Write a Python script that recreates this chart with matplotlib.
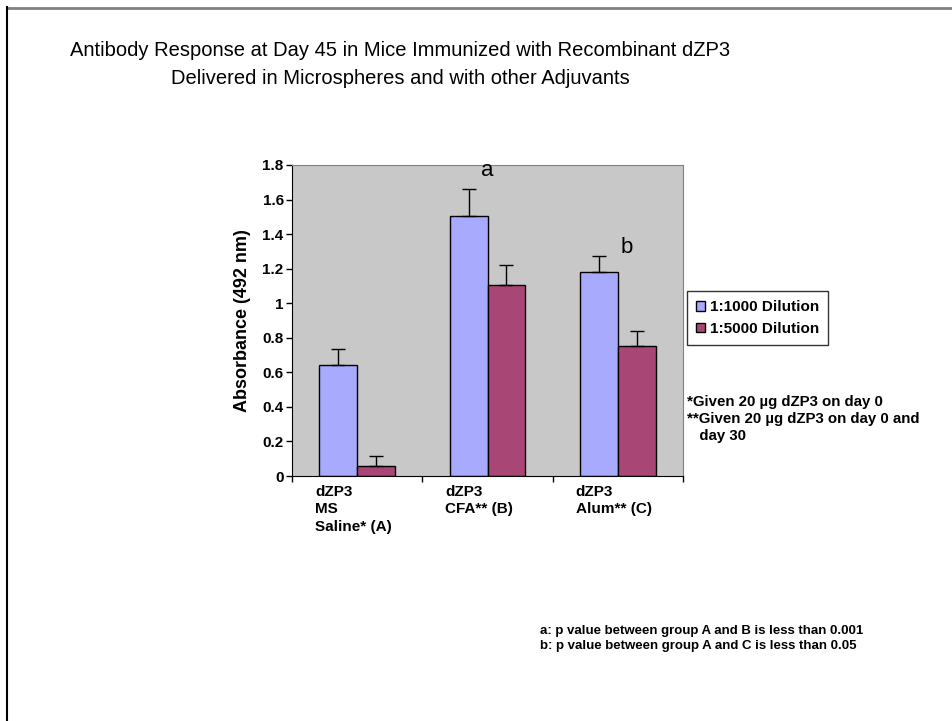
import numpy as np
import matplotlib.pyplot as plt
from matplotlib.lines import Line2D

# Data
groups = ['dZP3\nMS\nSaline* (A)', 'dZP3\nCFA** (B)', 'dZP3\nAlum** (C)']
series = ['1:1000 Dilution', '1:5000 Dilution']
dil_1000 = [0.64, 1.505, 1.18]
dil_1000_err = [0.095, 0.155, 0.095]
dil_5000 = [0.058, 1.107, 0.752]
dil_5000_err = [0.059, 0.113, 0.087]
sig_labels = ['', 'a', 'b']
yticks = [0, 0.2, 0.4, 0.6, 0.8, 1, 1.2, 1.4, 1.6, 1.8]

W, H = 952, 721
fig = plt.figure(figsize=(W / 100, H / 100), dpi=100)
plt.rcParams['font.family'] = ['Liberation Sans', 'DejaVu Sans']

def fx(x):
    return x / W

def fy(y):
    return 1 - y / H

# slide frame
fig.add_artist(Line2D([fx(7), 1], [fy(7.5), fy(7.5)], color='#808080', lw=2))
fig.add_artist(Line2D([fx(7), fx(7)], [fy(7), 0], color='black', lw=1.5))

ax = fig.add_axes([fx(292), fy(476), fx(683) - fx(292), fy(165) - fy(476)])
ax.set_facecolor('#c8c8c8')

x = np.arange(len(groups)) + 0.5
bw = 0.29
ax.bar(x - bw / 2, dil_1000, bw, color='#a8aafd', edgecolor='black', lw=1,
       label=series[0], zorder=2)
ax.bar(x + bw / 2, dil_5000, bw, color='#a84775', edgecolor='black', lw=1,
       label=series[1], zorder=2)
ax.errorbar(x - bw / 2, dil_1000, yerr=[np.zeros(3), dil_1000_err], fmt='none',
            ecolor='black', elinewidth=1, capsize=5, capthick=1, zorder=3)
ax.errorbar(x + bw / 2, dil_5000, yerr=[np.zeros(3), dil_5000_err], fmt='none',
            ecolor='black', elinewidth=1, capsize=5, capthick=1, zorder=3)

ax.set_xlim(0, 3)
ax.set_ylim(0, 1.8)
ax.set_yticks(yticks)
ax.set_yticklabels([f'{v:g}' for v in yticks], fontsize=11, fontweight='bold')
ax.set_xticks([0, 1, 2, 3])
ax.set_xticklabels([])
ax.tick_params(axis='both', direction='out', length=4, width=1, pad=2)
for s in ['top', 'right']:
    ax.spines[s].set_color('#808080')
ax.spines['left'].set_color('black')
ax.spines['bottom'].set_color('black')
ax.set_ylabel('Absorbance (492 nm)', fontsize=13, fontweight='bold', labelpad=8)

# significance letters
ax.text(x[1], 1.83, sig_labels[1], ha='center', va='top', fontsize=16)
ax.text(x[2] + 0.02, 1.32, sig_labels[2], ha='left', va='center', fontsize=16)

# category labels
for i, g in enumerate(groups):
    fig.text(fx(315 + i * 130.3), fy(485), g, ha='left', va='top',
             fontsize=11, fontweight='bold', linespacing=1.3)

leg = ax.legend(loc='upper left', bbox_to_anchor=(fx(687), fy(291)),
                bbox_transform=fig.transFigure, frameon=True, fancybox=False,
                prop={'weight': 'bold', 'size': 11},
                handlelength=0.6, handleheight=0.6, handletextpad=0.3,
                borderpad=0.6, labelspacing=0.5, borderaxespad=0)
leg.get_frame().set_edgecolor('black')
leg.get_frame().set_linewidth(1)

fig.text(fx(687), fy(419), '*Given 20 µg dZP3 on day 0\n**Given 20 µg dZP3 on day 0 and\n   day 30',
         ha='left', va='center', fontsize=10.8, fontweight='bold', linespacing=1.28)

fig.text(fx(400), fy(50), 'Antibody Response at Day 45 in Mice Immunized with Recombinant dZP3',
         ha='center', va='center', fontsize=14.5,
         family=['Liberation Sans Narrow', 'Liberation Sans', 'DejaVu Sans'])
fig.text(fx(400), fy(78), 'Delivered in Microspheres and with other Adjuvants',
         ha='center', va='center', fontsize=14.5,
         family=['Liberation Sans Narrow', 'Liberation Sans', 'DejaVu Sans'])

fig.text(fx(540), fy(638.5), 'a: p value between group A and B is less than 0.001\n'
         'b: p value between group A and C is less than 0.05',
         ha='left', va='center', fontsize=9.5, fontweight='bold', linespacing=1.35)

fig.savefig('out.png', dpi=100)
